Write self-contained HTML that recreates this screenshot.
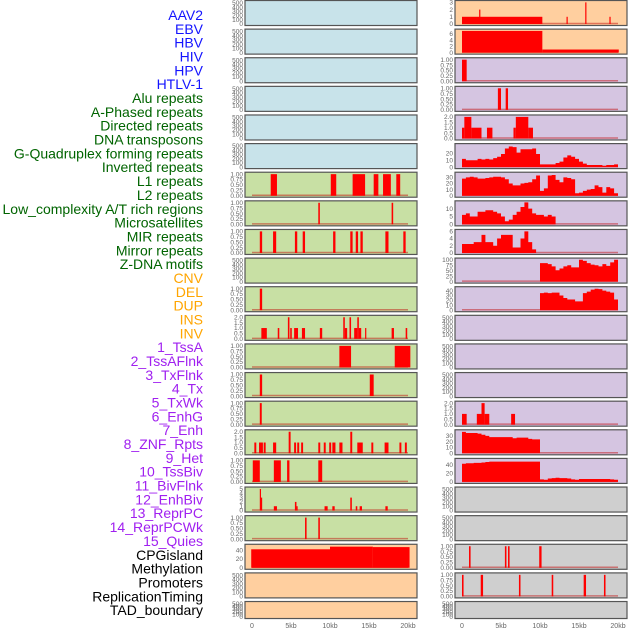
<!DOCTYPE html>
<html><head><meta charset="utf-8"><style>
html,body{margin:0;padding:0;background:#fff;width:630px;height:630px;overflow:hidden}
svg{display:block;font-family:"Liberation Sans",sans-serif}
</style></head><body>
<svg id="chart" width="630" height="630"></svg>
<script>
// ---- data ----
const trackNames = ["AAV2","EBV","HBV","HIV","HPV","HTLV-1","Alu repeats","A-Phased repeats","Directed repeats","DNA transposons","G-Quadruplex forming repeats","Inverted repeats","L1 repeats","L2 repeats","Low_complexity A/T rich regions","Microsatellites","MIR repeats","Mirror repeats","Z-DNA motifs","CNV","DEL","DUP","INS","INV","1_TssA","2_TssAFlnk","3_TxFlnk","4_Tx","5_TxWk","6_EnhG","7_Enh","8_ZNF_Rpts","9_Het","10_TssBiv","11_BivFlnk","12_EnhBiv","13_ReprPC","14_ReprPCWk","15_Quies","CPGisland","Methylation","Promoters","ReplicationTiming","TAD_boundary"];
const trackGroups = [6,13,5,15,5];
const groupColors = ["#1414ff","#006400","#ffa500","#a020f0","#000000"];
const xTicks = [0,5,10,15,20];
const xTickLabels = ["0","5kb","10kb","15kb","20kb"];
// segment data [startKb, endKb, value]
const L6 = [[2.4,3.2,1],[10.1,10.8,1],[12.9,14.5,1],[15.6,16.2,1],[16.8,17.8,1],[18.5,19.0,1]];
const L7 = [[8.5,8.7,1],[17.9,18.1,1]];
const L8 = [[1.0,1.3,1],[2.7,3.1,1],[5.5,5.8,1],[6.5,6.8,1],[10.4,10.7,1],[12.6,12.9,1],[13.3,13.6,1],[13.9,14.2,1],[17.1,17.5,1],[19.4,19.7,1]];
const L10 = [[1.0,1.3,1]];
const L11 = [[1.2,1.9,1],[3.3,3.5,1],[4.6,4.8,2],[4.9,5.1,1],[5.4,5.9,1],[6.4,6.8,1],[8.7,9.0,1],[11.7,11.9,2],[11.9,12.2,1],[12.5,12.7,2],[13.1,13.5,1],[13.5,13.7,2],[13.7,14.0,1],[14.5,14.6,1],[17.9,18.2,1],[19.7,19.9,1]];
const L12 = [[11.2,12.7,1],[18.3,20.3,1]];
const L13 = [[1.0,1.3,1],[15.1,15.6,1]];
const L14 = [[1.0,1.25,1]];
const L15 = [[0.3,0.55,1],[0.9,1.4,1],[1.5,1.75,1],[2.7,3.1,1],[4.7,4.95,2],[5.4,5.65,1],[5.8,6.05,1],[6.3,6.55,1],[8.5,8.75,1],[9.2,9.45,1],[9.9,10.15,1],[10.3,10.7,1],[11.2,11.6,1],[12.6,12.85,2],[13.5,14.2,1],[15.3,15.55,1],[17.0,17.5,1],[18.9,19.15,1],[19.6,19.85,1]];
const L16 = [[0.1,1.0,1],[2.8,3.7,1],[4.5,4.8,1],[8.5,9.0,1]];
const L17 = [[1.0,1.15,5],[1.15,1.3,3],[2.8,3.2,1],[5.5,5.7,2],[5.7,5.85,1],[9.3,9.7,1],[10.3,10.6,1],[12.6,12.8,3],[13.3,13.5,1],[13.8,14.1,1],[17.1,17.4,1]];
const L18 = [[6.8,7.0,1],[8.5,8.7,1]];
const L19 = [[-0.1,10,42],[10,15.5,48],[15.5,20.2,47]];
const R0 = [[0,10.3,1],[2.2,2.35,2],[13.4,13.55,1],[15.8,15.95,3],[18.9,19.05,1]];
const R1 = [[0,10.3,7],[10.3,20.1,1]];
const R2 = [[0,0.6,1]];
const R3 = [[4.6,5.0,1],[5.6,5.9,1]];
const R4 = [[0,0.3,1],[0.3,1.2,2],[1.2,2.5,1],[3.2,3.9,1],[6.6,6.9,1],[6.9,8.5,2],[8.5,9.1,1]];
const R14 = [[0,0.6,1],[1.9,2.5,1],[2.5,2.9,2],[2.9,3.5,1],[6.3,6.8,1]];
const R19 = [[0.9,1.1,1],[5.5,5.7,1],[5.9,6.1,1],[9.9,10.2,1]];
const R20 = [[0,0.2,1],[2.4,2.7,1],[7.3,7.5,1],[11.5,11.7,1],[15.6,15.9,1],[18.2,18.4,1]];
// binned data (0.5 kb bins, 0..20 kb)
const R5 = [12,10,10,10,12,11,12,11,13,15,19,27,30,29,21,26,26,26,27,19,4,4,4,4,6,8,14,17,15,12,8,5,3,3,3,3,2,3,3,4];
const R6 = [28,30,31,30,28,28,29,30,31,31,30,27,20,17,17,20,21,22,27,33,8,12,33,34,26,22,30,29,27,4,5,8,10,11,17,14,5,14,12,4];
const R7 = [6,7,5,5,8,8,9,9,8,7,5,2,3,6,8,11,14,10,7,6,6,5,6,5,0,0,0,0,0,0,0,0,0,0,0,0,0,0,0,0];
const R8 = [2.5,2.5,2.5,3,3,5,3,3,2,4,5,5,5,1.5,1.5,4,6,3,1,0,0,0,0,0,0,0,0,0,0,0,0,0,0,0,0,0,0,0,0,0];
const R9 = [0,0,0,0,0,0,0,0,0,0,0,0,0,0,0,0,0,0,0,0,85,85,80,70,52,60,70,75,65,65,100,95,85,78,75,70,80,72,88,100];
const R10 = [0,0,0,0,0,0,0,0,0,0,0,0,0,0,0,0,0,0,0,0,35,36,35,36,36,30,25,22,22,18,18,35,38,42,44,43,40,38,36,22];
const R15 = [37,35,35,35,34,32,30,28,28,28,28,28,28,26,27,27,27,25,24,24,0,0,0,0,0,0,0,0,0,0,0,0,0,0,0,0,0,0,0,0];
const R16 = [43,44,44,45,45,46,47,48,48,48,48,48,48,48,48,48,48,48,48,48,6,5,8,9,10,9,9,8,6,5,7,7,7,7,7,7,7,7,6,5];

// ---- configuration ----
const EMPTY = {ymax:520,ticks:[0,100,200,300,400,500],fmt:v=>String(v)};
const BIN = {ymax:1.02,ticks:[0,0.25,0.5,0.75,1],fmt:v=>v.toFixed(2)};
const TWO = {ymax:2.04,ticks:[0,0.5,1,1.5,2],fmt:v=>v.toFixed(1)};
function cfg(o,extra){return Object.assign({},o,extra);}
const leftPanels = [
 cfg(EMPTY,{bg:"#c8e3ea"}),cfg(EMPTY,{bg:"#c8e3ea"}),cfg(EMPTY,{bg:"#c8e3ea"}),cfg(EMPTY,{bg:"#c8e3ea"}),cfg(EMPTY,{bg:"#c8e3ea"}),cfg(EMPTY,{bg:"#c8e3ea"}),
 cfg(BIN,{bg:"#c8e0a4",segs:L6}),cfg(BIN,{bg:"#c8e0a4",segs:L7}),cfg(BIN,{bg:"#c8e0a4",segs:L8}),cfg(EMPTY,{bg:"#c8e0a4"}),
 cfg(BIN,{bg:"#c8e0a4",segs:L10}),cfg(TWO,{bg:"#c8e0a4",segs:L11}),cfg(BIN,{bg:"#c8e0a4",segs:L12}),cfg(BIN,{bg:"#c8e0a4",segs:L13}),
 cfg(BIN,{bg:"#c8e0a4",segs:L14}),cfg(TWO,{bg:"#c8e0a4",segs:L15}),cfg(BIN,{bg:"#c8e0a4",segs:L16}),
 {bg:"#c8e0a4",segs:L17,ymax:5.1,ticks:[0,1,2,3,4,5],fmt:v=>String(v)},cfg(BIN,{bg:"#c8e0a4",segs:L18}),
 {bg:"#ffcf9f",segs:L19,ymax:50,ticks:[0,20,40],fmt:v=>String(v)},cfg(EMPTY,{bg:"#ffcf9f"}),cfg(EMPTY,{bg:"#ffcf9f"})
];
const rightPanels = [
 {bg:"#ffcf9f",segs:R0,ymax:3.05,ticks:[0,1,2,3],fmt:v=>String(v)},
 {bg:"#ffcf9f",segs:R1,ymax:7.1,ticks:[0,2,4,6],fmt:v=>String(v)},
 cfg(BIN,{bg:"#d5c5e1",segs:R2}),cfg(BIN,{bg:"#d5c5e1",segs:R3}),cfg(TWO,{bg:"#d5c5e1",segs:R4}),
 {bg:"#d5c5e1",bins:R5,ymax:32,ticks:[0,10,20],fmt:v=>String(v)},
 {bg:"#d5c5e1",bins:R6,ymax:36,ticks:[0,10,20,30],fmt:v=>String(v)},
 {bg:"#d5c5e1",bins:R7,ymax:14,ticks:[0,5,10],fmt:v=>String(v)},
 {bg:"#d5c5e1",bins:R8,ymax:6.1,ticks:[0,2,4,6],fmt:v=>String(v)},
 {bg:"#d5c5e1",bins:R9,ymax:101,ticks:[0,25,50,75,100],fmt:v=>String(v)},
 {bg:"#d5c5e1",bins:R10,ymax:45,ticks:[0,10,20,30,40],fmt:v=>String(v)},
 cfg(EMPTY,{bg:"#d5c5e1"}),cfg(EMPTY,{bg:"#d5c5e1"}),cfg(EMPTY,{bg:"#d5c5e1"}),
 cfg(TWO,{bg:"#d5c5e1",segs:R14}),
 {bg:"#d5c5e1",bins:R15,ymax:38,ticks:[0,10,20,30],fmt:v=>String(v)},
 {bg:"#d5c5e1",bins:R16,ymax:52,ticks:[0,20,40],fmt:v=>String(v)},
 cfg(EMPTY,{bg:"#cfcfcf"}),cfg(EMPTY,{bg:"#cfcfcf"}),
 cfg(BIN,{bg:"#cfcfcf",segs:R19}),cfg(BIN,{bg:"#cfcfcf",segs:R20}),cfg(EMPTY,{bg:"#cfcfcf"})
];

// ---- drawing ----
const NS="http://www.w3.org/2000/svg";
const svg=document.getElementById("chart");
function mk(tag,attrs,parent){const e=document.createElementNS(NS,tag);for(const k in attrs)e.setAttribute(k,attrs[k]);(parent||svg).appendChild(e);return e;}
const PITCH=28.62;
function xScale(col,kb){return (col===0?252:462)+kb*7.8;}

// labels
let idx=0;
trackGroups.forEach((n,g)=>{for(let k=0;k<n;k++){
  const t=mk("text",{x:203,y:15+idx*13.84+5,"text-anchor":"end","font-size":"14",fill:groupColors[g]});
  
  
  t.textContent=trackNames[idx];idx++;}});

function drawPanel(p,col,row){
  const px=col===0?245:455, w=172;
  const top=0.5+row*PITCH, h=(row===21?17:25);
  const g=mk("g",{});
  
  
  mk("rect",{x:px,y:top,width:w,height:h,fill:p.bg,stroke:"#555","stroke-width":1.2},g);
  const base=top+h-1.5, yTop=top+1.5;
  const ys=v=>base-(v/p.ymax)*(base-yTop);
  p.ticks.forEach(v=>{
    const tt=mk("text",{x:px-2,y:ys(v)+2.2,"text-anchor":"end","font-size":"6.5",fill:"#666"},g);
    
    
    tt.textContent=p.fmt(v);
  });
  const hasData=p.segs||p.bins;
  if(hasData){
    mk("line",{x1:xScale(col,0),x2:xScale(col,20),y1:base-0.5,y2:base-0.5,stroke:"rgba(190,0,0,0.45)","stroke-width":1.5},g);
  }
  if(p.segs){p.segs.forEach(s=>{
    const x1=xScale(col,s[0]),x2=xScale(col,s[1]);
    const r=mk("rect",{x:x1,y:ys(s[2]),width:Math.max(1.2,x2-x1),height:base-ys(s[2]),fill:"#ff0000"},g);
    
    
  });}
  if(p.bins){
    let d="M"+xScale(col,0)+","+base;
    p.bins.forEach((v,i)=>{const x1=xScale(col,i*0.5),x2=xScale(col,(i+1)*0.5);d+=" L"+x1+","+ys(v)+" L"+x2+","+ys(v);});
    d+=" L"+xScale(col,20)+","+base+" Z";
    const a=mk("path",{d:d,fill:"#ff0000"},g);
    
    
  }
}
leftPanels.forEach((p,i)=>drawPanel(p,0,i));
rightPanels.forEach((p,i)=>drawPanel(p,1,i));

// x axes
[0,1].forEach(col=>{xTicks.forEach((v,i)=>{
  const t=mk("text",{x:xScale(col,v),y:628,"text-anchor":"middle","font-size":"7",fill:"#666"});
  
  
  t.textContent=xTickLabels[i];});});
</script>
</body></html>
